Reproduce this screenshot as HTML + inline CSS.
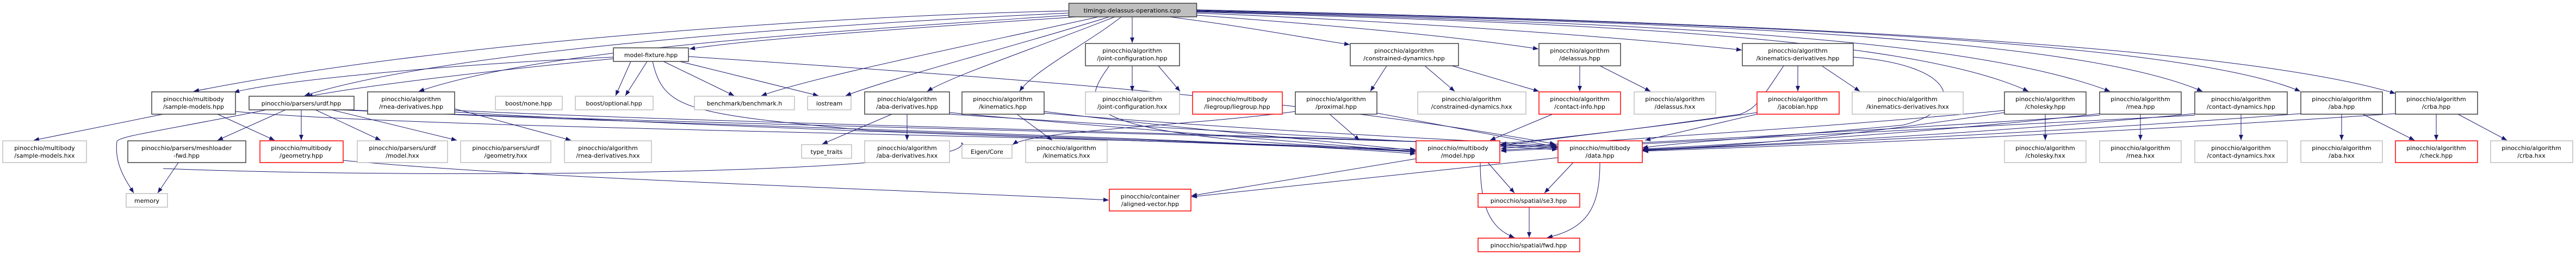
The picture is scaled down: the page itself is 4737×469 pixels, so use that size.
<!DOCTYPE html>
<html><head><meta charset="utf-8"><style>
html,body{margin:0;padding:0;background:#fff;}
svg{display:block;}
text{font-family:"DejaVu Sans","Liberation Sans",sans-serif;font-size:11px;fill:#000;}
.e{fill:none;stroke:#191970;stroke-width:1;}
.nb{fill:#fff;stroke:#404040;stroke-width:1.5;}
.ng{fill:#fff;stroke:#bfbfbf;stroke-width:1.5;}
.nr{fill:#fff;stroke:#ff0000;stroke-width:1.5;}
</style></head><body>
<svg width="4737" height="469" viewBox="0 0 4737 469" xmlns="http://www.w3.org/2000/svg">
<defs><marker id="a" markerWidth="10" markerHeight="8" refX="10" refY="4" orient="auto" markerUnits="userSpaceOnUse"><path d="M0,0 L10,4 L0,8 Z" fill="#191970"/></marker></defs>
<g class="e" marker-end="url(#a)">
<!-- from timings -->
<path d="M1965,20 C1500,30 800,80 356,168"/>
<path d="M1965,24 C1400,50 800,100 560,176"/>
<path d="M1965,28 C1500,60 1000,90 770,168"/>
<path d="M1980,31 C1700,50 1400,70 1268,90"/>
<path d="M2020,31 C1800,80 1500,140 1400,176"/>
<path d="M2040,31 C1850,90 1650,140 1555,176"/>
<path d="M2050,31 C1900,90 1750,140 1705,168"/>
<path d="M2062,31 C2000,80 1900,130 1875,168"/>
<path d="M2082,31 L2082,79"/>
<path d="M2150,31 C2300,50 2400,70 2482,82"/>
<path d="M2200,28 C2500,50 2700,70 2829,90"/>
<path d="M2200,24 C2600,40 3000,70 3203,92"/>
<path d="M2200,22 C2800,40 3500,60 3730,168"/>
<path d="M2200,21 C2900,40 3600,60 3880,168"/>
<path d="M2200,20 C3000,40 3800,60 4050,168"/>
<path d="M2200,19 C3100,40 4000,70 4230,168"/>
<path d="M2200,18 C3200,40 4100,80 4405,172"/>
<!-- model-fixture -->
<path d="M1128,105 C800,120 500,150 430,170"/>
<path d="M1128,108 C900,130 650,160 565,178"/>
<path d="M1160,113 L1132,176"/>
<path d="M1190,113 L1150,176"/>
<path d="M1220,113 L1350,176"/>
<path d="M1250,113 L1505,176"/>
<path d="M1266,104 C1800,140 2400,180 2860,265"/>
<path d="M1200,113 C1220,200 1260,210 1600,240 C2200,260 2500,270 2603,275"/>
<!-- sample-models.hpp -->
<path d="M300,210 L62,258"/>
<path d="M400,210 L505,258"/>
<path d="M433,205 C800,240 2200,250 2603,280"/>
<!-- urdf.hpp -->
<path d="M490,202 C300,240 220,250 215,260 C210,300 230,330 246,355"/>
<path d="M525,202 L400,258"/>
<path d="M554,202 L554,258"/>
<path d="M580,202 L700,258"/>
<path d="M610,202 L840,258"/>
<path d="M640,202 C1200,230 2200,250 2603,283"/>
<path d="M620,202 C1300,230 2400,250 2864,270"/>
<!-- rnea-derivatives.hpp -->
<path d="M836,200 L1050,258"/>
<path d="M836,206 C1400,240 2200,260 2603,278"/>
<path d="M836,203 C1400,230 2500,250 2864,272"/>
<!-- meshloader, geometry -->
<path d="M328,299 L290,355"/>
<path d="M631,295 C1000,330 1700,350 2039,368"/>
<path d="M300,310 C800,330 1800,320 1768,262"/>
<!-- aba-deriv -->
<path d="M1640,210 L1512,265"/>
<path d="M1668,210 L1668,258"/>
<path d="M1746,207 C2100,240 2400,260 2603,280"/>
<path d="M1746,210 C2200,240 2600,260 2864,275"/>
<!-- kinematics -->
<path d="M1870,210 L1935,258"/>
<path d="M1920,205 C2200,240 2450,260 2603,277"/>
<path d="M1920,208 C2300,240 2650,255 2864,268"/>
<!-- joint-config -->
<path d="M2082,121 L2082,168"/>
<path d="M2130,121 L2170,168"/>
<path d="M2040,121 C1990,190 1980,230 2300,260 C2450,270 2550,275 2603,278"/>
<!-- constrained-dynamics -->
<path d="M2550,121 L2520,168"/>
<path d="M2620,121 L2675,168"/>
<path d="M2670,121 L2830,168"/>
<!-- proximal -->
<path d="M2445,210 L2500,258"/>
<path d="M2532,208 L2862,270"/>
<path d="M2382,205 C2200,230 1900,240 1862,266"/>
<!-- delassus -->
<path d="M2905,121 L2905,168"/>
<path d="M2942,121 L3035,168"/>
<path d="M2855,210 L2740,258"/>
<!-- kinematics-derivatives -->
<path d="M3306,121 L3306,168"/>
<path d="M3350,121 L3420,168"/>
<path d="M3280,121 C3240,180 3230,200 3200,210 C3000,240 2850,255 2760,268"/>
<path d="M3408,105 C3600,120 3620,200 3500,230 C3300,250 3100,260 3020,272"/>
<!-- jacobian -->
<path d="M3231,207 C3000,240 2850,255 2760,265"/>
<path d="M3231,210 L3025,258"/>
<!-- algorithms row -->
<path d="M3761,210 L3761,258"/>
<path d="M3936,210 L3936,258"/>
<path d="M4121,210 L4121,258"/>
<path d="M4306,210 L4306,258"/>
<path d="M4480,210 L4480,258"/>
<path d="M4345,210 L4440,258"/>
<path d="M4520,210 L4610,258"/>
<path d="M3686,203 C3300,240 2900,260 2760,273"/>
<path d="M3686,207 C3400,250 3200,270 3021,275"/>
<path d="M3861,209 C3500,250 3100,270 3021,274"/>
<path d="M4036,209 C3600,250 3200,268 3021,276"/>
<path d="M4231,209 C3700,250 3200,268 3021,277"/>
<path d="M4405,209 C3800,250 3300,268 3021,278"/>
<path d="M3861,212 C3300,250 2900,268 2760,276"/>
<path d="M4036,212 C3300,250 2900,268 2760,278"/>
<!-- model/data -->
<path d="M2736,299 L2785,355"/>
<path d="M2893,299 L2840,355"/>
<path d="M2722,299 C2722,380 2740,420 2785,437"/>
<path d="M2942,299 C2942,380 2920,420 2845,437"/>
<path d="M2812,381 L2812,437"/>
<path d="M2604,292 L2191,360"/>
<path d="M2865,290 L2191,362"/>
</g>
<!-- nodes -->
<g>
<rect class="nb" x="1965.5" y="6" width="235" height="25" style="fill:#bfbfbf"/><text x="2082" y="23" text-anchor="middle">timings-delassus-operations.cpp</text>

<rect class="nb" x="1128" y="88" width="138" height="25"/><text x="1197" y="105" text-anchor="middle">model-fixture.hpp</text>
<rect class="nb" x="1996" y="80" width="173" height="41"/><text x="2082" y="97" text-anchor="middle">pinocchio/algorithm</text><text x="2082" y="111" text-anchor="middle">/joint-configuration.hpp</text>
<rect class="nb" x="2483" y="80" width="199" height="41"/><text x="2582" y="97" text-anchor="middle">pinocchio/algorithm</text><text x="2582" y="111" text-anchor="middle">/constrained-dynamics.hpp</text>
<rect class="nb" x="2830" y="80" width="150" height="41"/><text x="2905" y="97" text-anchor="middle">pinocchio/algorithm</text><text x="2905" y="111" text-anchor="middle">/delassus.hpp</text>
<rect class="nb" x="3204" y="80" width="204" height="41"/><text x="3306" y="97" text-anchor="middle">pinocchio/algorithm</text><text x="3306" y="111" text-anchor="middle">/kinematics-derivatives.hpp</text>

<rect class="nb" x="279" y="169" width="154" height="41"/><text x="356" y="186" text-anchor="middle">pinocchio/multibody</text><text x="356" y="200" text-anchor="middle">/sample-models.hpp</text>
<rect class="nb" x="458" y="177" width="193" height="25"/><text x="554" y="194" text-anchor="middle">pinocchio/parsers/urdf.hpp</text>
<rect class="nb" x="676" y="169" width="160" height="41"/><text x="756" y="186" text-anchor="middle">pinocchio/algorithm</text><text x="756" y="200" text-anchor="middle">/rnea-derivatives.hpp</text>
<rect class="ng" x="911" y="177" width="123" height="25"/><text x="972" y="194" text-anchor="middle">boost/none.hpp</text>
<rect class="ng" x="1058" y="177" width="143" height="25"/><text x="1129" y="194" text-anchor="middle">boost/optional.hpp</text>
<rect class="ng" x="1277" y="177" width="184" height="25"/><text x="1369" y="194" text-anchor="middle">benchmark/benchmark.h</text>
<rect class="ng" x="1485" y="177" width="80" height="25"/><text x="1525" y="194" text-anchor="middle">iostream</text>
<rect class="nb" x="1590" y="169" width="156" height="41"/><text x="1668" y="186" text-anchor="middle">pinocchio/algorithm</text><text x="1668" y="200" text-anchor="middle">/aba-derivatives.hpp</text>
<rect class="nb" x="1769" y="169" width="151" height="41"/><text x="1844" y="186" text-anchor="middle">pinocchio/algorithm</text><text x="1844" y="200" text-anchor="middle">/kinematics.hpp</text>
<rect class="ng" x="1996" y="169" width="173" height="41"/><text x="2082" y="186" text-anchor="middle">pinocchio/algorithm</text><text x="2082" y="200" text-anchor="middle">/joint-configuration.hxx</text>
<rect class="nr" x="2193" y="169" width="165" height="41"/><text x="2275" y="186" text-anchor="middle">pinocchio/multibody</text><text x="2275" y="200" text-anchor="middle">/liegroup/liegroup.hpp</text>
<rect class="nb" x="2382" y="169" width="150" height="41"/><text x="2457" y="186" text-anchor="middle">pinocchio/algorithm</text><text x="2457" y="200" text-anchor="middle">/proximal.hpp</text>
<rect class="ng" x="2607" y="169" width="199" height="41"/><text x="2706" y="186" text-anchor="middle">pinocchio/algorithm</text><text x="2706" y="200" text-anchor="middle">/constrained-dynamics.hxx</text>
<rect class="nr" x="2830" y="169" width="150" height="41"/><text x="2905" y="186" text-anchor="middle">pinocchio/algorithm</text><text x="2905" y="200" text-anchor="middle">/contact-info.hpp</text>
<rect class="ng" x="3005" y="169" width="150" height="41"/><text x="3080" y="186" text-anchor="middle">pinocchio/algorithm</text><text x="3080" y="200" text-anchor="middle">/delassus.hxx</text>
<rect class="nr" x="3231" y="169" width="151" height="41"/><text x="3306" y="186" text-anchor="middle">pinocchio/algorithm</text><text x="3306" y="200" text-anchor="middle">/jacobian.hpp</text>
<rect class="ng" x="3406" y="169" width="204" height="41"/><text x="3508" y="186" text-anchor="middle">pinocchio/algorithm</text><text x="3508" y="200" text-anchor="middle">/kinematics-derivatives.hxx</text>
<rect class="nb" x="3686" y="169" width="150" height="41"/><text x="3761" y="186" text-anchor="middle">pinocchio/algorithm</text><text x="3761" y="200" text-anchor="middle">/cholesky.hpp</text>
<rect class="nb" x="3861" y="169" width="150" height="41"/><text x="3936" y="186" text-anchor="middle">pinocchio/algorithm</text><text x="3936" y="200" text-anchor="middle">/rnea.hpp</text>
<rect class="nb" x="4036" y="169" width="170" height="41"/><text x="4121" y="186" text-anchor="middle">pinocchio/algorithm</text><text x="4121" y="200" text-anchor="middle">/contact-dynamics.hpp</text>
<rect class="nb" x="4231" y="169" width="150" height="41"/><text x="4306" y="186" text-anchor="middle">pinocchio/algorithm</text><text x="4306" y="200" text-anchor="middle">/aba.hpp</text>
<rect class="nb" x="4405" y="169" width="151" height="41"/><text x="4480" y="186" text-anchor="middle">pinocchio/algorithm</text><text x="4480" y="200" text-anchor="middle">/crba.hpp</text>

<rect class="ng" x="5" y="259" width="154" height="40"/><text x="82" y="276" text-anchor="middle">pinocchio/multibody</text><text x="82" y="290" text-anchor="middle">/sample-models.hxx</text>
<rect class="nb" x="235" y="259" width="217" height="40"/><text x="343" y="276" text-anchor="middle">pinocchio/parsers/meshloader</text><text x="343" y="290" text-anchor="middle">-fwd.hpp</text>
<rect class="nr" x="478" y="259" width="153" height="40"/><text x="554" y="276" text-anchor="middle">pinocchio/multibody</text><text x="554" y="290" text-anchor="middle">/geometry.hpp</text>
<rect class="ng" x="657" y="259" width="166" height="40"/><text x="740" y="276" text-anchor="middle">pinocchio/parsers/urdf</text><text x="740" y="290" text-anchor="middle">/model.hxx</text>
<rect class="ng" x="847" y="259" width="166" height="40"/><text x="930" y="276" text-anchor="middle">pinocchio/parsers/urdf</text><text x="930" y="290" text-anchor="middle">/geometry.hxx</text>
<rect class="ng" x="1038" y="259" width="160" height="40"/><text x="1118" y="276" text-anchor="middle">pinocchio/algorithm</text><text x="1118" y="290" text-anchor="middle">/rnea-derivatives.hxx</text>
<rect class="ng" x="1474" y="266" width="92" height="25"/><text x="1520" y="283" text-anchor="middle">type_traits</text>
<rect class="ng" x="1590" y="259" width="156" height="40"/><text x="1668" y="276" text-anchor="middle">pinocchio/algorithm</text><text x="1668" y="290" text-anchor="middle">/aba-derivatives.hxx</text>
<rect class="ng" x="1769" y="266" width="92" height="25"/><text x="1815" y="283" text-anchor="middle">Eigen/Core</text>
<rect class="ng" x="1886" y="259" width="150" height="40"/><text x="1961" y="276" text-anchor="middle">pinocchio/algorithm</text><text x="1961" y="290" text-anchor="middle">/kinematics.hxx</text>
<rect class="nr" x="2604" y="259" width="154" height="40"/><text x="2681" y="276" text-anchor="middle">pinocchio/multibody</text><text x="2681" y="290" text-anchor="middle">/model.hpp</text>
<rect class="nr" x="2865" y="259" width="155" height="40"/><text x="2942" y="276" text-anchor="middle">pinocchio/multibody</text><text x="2942" y="290" text-anchor="middle">/data.hpp</text>
<rect class="ng" x="3686" y="259" width="150" height="40"/><text x="3761" y="276" text-anchor="middle">pinocchio/algorithm</text><text x="3761" y="290" text-anchor="middle">/cholesky.hxx</text>
<rect class="ng" x="3861" y="259" width="150" height="40"/><text x="3936" y="276" text-anchor="middle">pinocchio/algorithm</text><text x="3936" y="290" text-anchor="middle">/rnea.hxx</text>
<rect class="ng" x="4036" y="259" width="170" height="40"/><text x="4121" y="276" text-anchor="middle">pinocchio/algorithm</text><text x="4121" y="290" text-anchor="middle">/contact-dynamics.hxx</text>
<rect class="ng" x="4231" y="259" width="150" height="40"/><text x="4306" y="276" text-anchor="middle">pinocchio/algorithm</text><text x="4306" y="290" text-anchor="middle">/aba.hxx</text>
<rect class="nr" x="4405" y="259" width="151" height="40"/><text x="4480" y="276" text-anchor="middle">pinocchio/algorithm</text><text x="4480" y="290" text-anchor="middle">/check.hpp</text>
<rect class="ng" x="4580" y="259" width="151" height="40"/><text x="4655" y="276" text-anchor="middle">pinocchio/algorithm</text><text x="4655" y="290" text-anchor="middle">/crba.hxx</text>

<rect class="ng" x="232" y="356" width="76" height="25"/><text x="270" y="373" text-anchor="middle">memory</text>
<rect class="nr" x="2040" y="348" width="150" height="40"/><text x="2115" y="365" text-anchor="middle">pinocchio/container</text><text x="2115" y="379" text-anchor="middle">/aligned-vector.hpp</text>
<rect class="nr" x="2718" y="356" width="187" height="25"/><text x="2811" y="373" text-anchor="middle">pinocchio/spatial/se3.hpp</text>
<rect class="nr" x="2718" y="438" width="187" height="25"/><text x="2811" y="455" text-anchor="middle">pinocchio/spatial/fwd.hpp</text>
</g>
</svg>
</body></html>
